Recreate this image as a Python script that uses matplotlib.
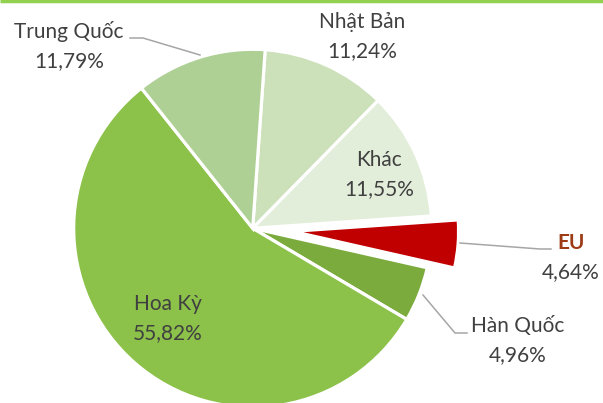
import matplotlib
matplotlib.use('Agg')
import matplotlib.pyplot as plt

# Data (clockwise from the top)
names = ['Nhật Bản', 'Khác', 'EU', 'Hàn Quốc', 'Hoa Kỳ', 'Trung Quốc']
shares = [11.24, 11.55, 4.64, 4.96, 55.82, 11.79]
colors = ['#CCE0BA', '#E2EED9', '#C00000', '#7BAB3D', '#8CC14A', '#AFD095']

W, H = 603, 403
plt.rcParams['font.family'] = ['Lato', 'DejaVu Sans']

fig = plt.figure(figsize=(W / 100, H / 100), dpi=100)
ax = fig.add_axes([0, 0, 1, 1])


def px(x, y):
    # pixel coords (origin top-left) -> data coords
    return x, H - y


explode = [40 if n == 'EU' else 0 for n in names]
wedges, _ = ax.pie(shares, colors=colors, startangle=86, counterclock=False,
                   radius=179, center=px(252.7, 228.3), explode=explode,
                   wedgeprops=dict(edgecolor='white', linewidth=2.3))
wedges[names.index('EU')].set_radius(166)

ax.set_xlim(0, W)
ax.set_ylim(0, H)
ax.set_aspect('equal')
ax.axis('off')

# top green rule
ax.plot([0, W], [H - 1.2, H - 1.2], color='#92D050', lw=2.5, solid_capstyle='butt')

# label positions (pixel centers of name line; percent line goes below)
label_pos = {
    'Trung Quốc': (69, 32),
    'Nhật Bản': (362, 22),
    'Khác': (379, 160),
    'EU': (571, 243),
    'Hàn Quốc': (518, 326),
    'Hoa Kỳ': (168, 304),
}
gray = '#404040'
fs = 15
for n, v in zip(names, shares):
    x, y = label_pos[n]
    if n == 'EU':
        ax.text(*px(x, y), n, ha='center', va='center', fontsize=fs,
                color='#9C3B14', fontweight='bold')
    else:
        ax.text(*px(x, y), n, ha='center', va='center', fontsize=fs, color=gray)
    pct = f'{v:.2f}'.replace('.', ',') + '%'
    ax.text(*px(x, y + 29), pct, ha='center', va='center', fontsize=fs, color=gray)

# leader lines
leaders = [
    [(130, 38), (143, 38), (200, 55)],
    [(460, 243), (540, 249), (551, 249)],
    [(423, 295), (455, 333), (467, 333)],
]
for pts in leaders:
    xs = [p[0] for p in pts]
    ys = [H - p[1] for p in pts]
    ax.plot(xs, ys, color='#A6A6A6', lw=1.1)

plt.savefig('out.png', dpi=100)
